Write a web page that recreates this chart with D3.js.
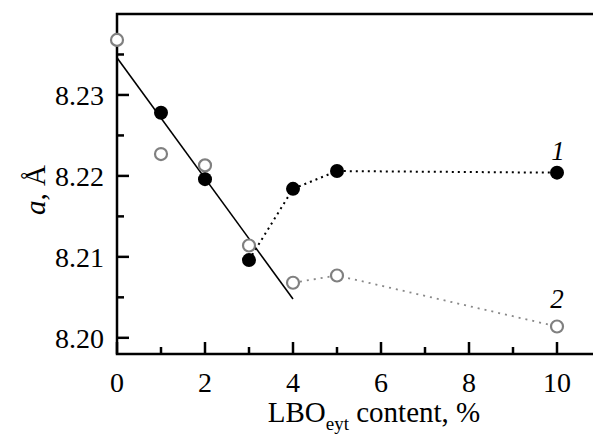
<!DOCTYPE html>
<html>
<head>
<meta charset="utf-8">
<script src="https://cdn.jsdelivr.net/npm/d3@7/dist/d3.min.js"></script>
<style>
    body { margin: 0; background: #fff; }
</style>
</head>
<body>
<div id="chart"></div>
<script>
// data
var content = [0, 1, 2, 3, 4, 5, 10];
var series1 = [null, 8.2278, 8.2196, 8.2096, 8.2184, 8.2206, 8.2204];   // filled, curve 1
var series2 = [8.2368, 8.2227, 8.2213, 8.2114, 8.2068, 8.2077, 8.2014]; // open, curve 2
var fitLine = [[0, 8.2346], [4, 8.2048]];
var xTicks = [0, 2, 4, 6, 8, 10];
var xMinor = [1, 3, 5, 7, 9];
var yTicks = [8.20, 8.21, 8.22, 8.23];
var yMinor = [8.205, 8.215, 8.225, 8.235];

var serif = "Liberation Serif";

function drawChart() {
    var width = 593, height = 434;

    var svg = d3.select("#chart").append("svg")
        .attr("width", width)
        .attr("height", height);

    var x = d3.scaleLinear().domain([0, 10]).range([117, 557]);
    var y = d3.scaleLinear().domain([8.198, 8.240]).range([354, 14]);

    var pLeft = x(0), pRight = x(11), pTop = y(8.240), pBottom = y(8.198);

    // frame (right side falls outside the picture)
    svg.append("path")
        .attr("d", "M" + pRight + "," + pTop + "H" + pLeft + "V" + pBottom + "H" + pRight)
        .attr("fill", "none")
        .attr("stroke", "#000")
        .attr("stroke-width", 2.5);

    // ticks (pointing inward)
    var xTickData = xTicks.map(function(v) { return {v: v, len: 12}; })
        .concat(xMinor.map(function(v) { return {v: v, len: 7}; }));
    var yTickData = yTicks.map(function(v) { return {v: v, len: 12}; })
        .concat(yMinor.map(function(v) { return {v: v, len: 7}; }));

    svg.selectAll("line.xtick").data(xTickData)
        .enter().append("line")
        .attr("class", "xtick")
        .attr("x1", function(d) { return x(d.v); })
        .attr("x2", function(d) { return x(d.v); })
        .attr("y1", pBottom)
        .attr("y2", function(d) { return pBottom - d.len; })
        .style("stroke", "#000")
        .style("stroke-width", "2.5px");
    svg.selectAll("line.ytick").data(yTickData)
        .enter().append("line")
        .attr("class", "ytick")
        .attr("y1", function(d) { return y(d.v); })
        .attr("y2", function(d) { return y(d.v); })
        .attr("x1", pLeft)
        .attr("x2", function(d) { return pLeft + d.len; })
        .style("stroke", "#000")
        .style("stroke-width", "2.5px");

    // tick labels
    svg.selectAll("text.xl").data(xTicks)
        .enter().append("text")
        .attr("class", "xl")
        .attr("x", function(d) { return x(d); })
        .attr("y", 392)
        .attr("text-anchor", "middle")
        .style("font-family", serif)
        .style("font-size", "28px")
        .text(d3.format("d"));
    svg.selectAll("text.yl").data(yTicks)
        .enter().append("text")
        .attr("class", "yl")
        .attr("x", 104)
        .attr("y", function(d) { return y(d) + 10; })
        .attr("text-anchor", "end")
        .style("font-family", serif)
        .style("font-size", "28px")
        .text(d3.format(".2f"));

    var line = d3.line()
        .x(function(d) { return x(d[0]); })
        .y(function(d) { return y(d[1]); });

    // linear fit
    svg.append("path")
        .datum(fitLine)
        .attr("d", line)
        .attr("fill", "none")
        .attr("stroke", "#000")
        .attr("stroke-width", 1.6);

    // dotted connectors
    var pts1 = [], pts2 = [];
    for (var i = 0; i < content.length; i++) {
        if (content[i] >= 3 && series1[i] != null) pts1.push([content[i], series1[i]]);
        if (content[i] >= 4) pts2.push([content[i], series2[i]]);
    }

    svg.append("path")
        .datum(pts2)
        .attr("d", line)
        .attr("fill", "none")
        .attr("stroke", "#888")
        .attr("stroke-width", 1.8)
        .attr("stroke-dasharray", "2,5");

    svg.append("path")
        .datum(pts1)
        .attr("d", line)
        .attr("fill", "none")
        .attr("stroke", "#000")
        .attr("stroke-width", 2)
        .attr("stroke-dasharray", "2,4");

    // open circles
    svg.selectAll("circle.open")
        .data(content.map(function(c, i) { return [c, series2[i]]; }))
        .enter().append("circle")
        .attr("class", "open")
        .attr("cx", function(d) { return x(d[0]); })
        .attr("cy", function(d) { return y(d[1]); })
        .attr("r", 6)
        .attr("fill", "#fff")
        .attr("stroke", "#808080")
        .attr("stroke-width", 2.2);

    // filled circles
    svg.selectAll("circle.filled")
        .data(content.map(function(c, i) { return [c, series1[i]]; }).filter(function(d) { return d[1] != null; }))
        .enter().append("circle")
        .attr("class", "filled")
        .attr("cx", function(d) { return x(d[0]); })
        .attr("cy", function(d) { return y(d[1]); })
        .attr("r", 7)
        .attr("fill", "#000");

    // curve numbers
    svg.append("text")
        .attr("x", x(10) + 1)
        .attr("y", 160)
        .attr("text-anchor", "middle")
        .style("font-family", serif)
        .style("font-size", "27px")
        .style("font-style", "italic")
        .text("1");

    svg.append("text")
        .attr("x", x(10))
        .attr("y", 308)
        .attr("text-anchor", "middle")
        .style("font-family", serif)
        .style("font-size", "27px")
        .style("font-style", "italic")
        .text("2");

    // axis titles
    var xt = svg.append("text")
        .attr("x", 374)
        .attr("y", 422)
        .attr("text-anchor", "middle")
        .style("font-family", serif)
        .style("font-size", "29px");
    xt.append("tspan").text("LBO");
    xt.append("tspan").attr("dy", 8).style("font-size", "19px").text("eyt");
    xt.append("tspan").attr("dy", -8).text(" content, %");

    var yt = svg.append("text")
        .attr("transform", "translate(45,190) rotate(-90)")
        .attr("text-anchor", "middle")
        .style("font-family", serif)
        .style("font-size", "29px");
    yt.append("tspan").style("font-style", "italic").text("a");
    yt.append("tspan").text(", Å");
}

drawChart();
</script>
</body>
</html>
